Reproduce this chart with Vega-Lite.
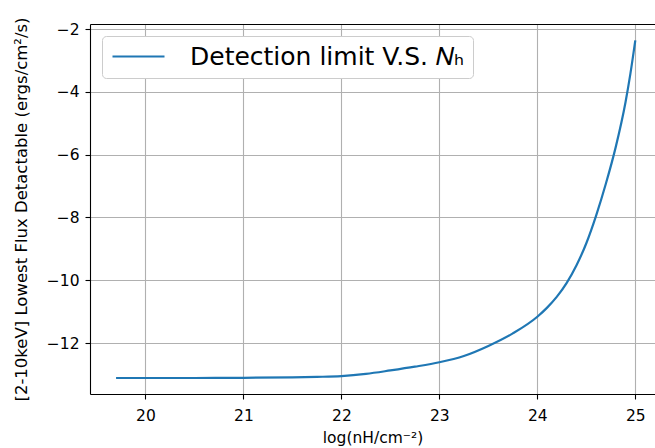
{
  "$schema": "https://vega.github.io/schema/vega-lite/v6.json",
  "width": 565,
  "height": 370,
  "autosize": {"type": "none"},
  "padding": {"left": 90, "top": 24, "right": 0, "bottom": 54},
  "background": "white",
  "config": {
    "view": {"stroke": null},
    "font": "DejaVu Sans",
    "axis": {
      "labelFont": "DejaVu Sans",
      "titleFont": "DejaVu Sans",
      "labelFontSize": 15.5,
      "titleFontSize": 15.5,
      "titleFontWeight": "normal",
      "labelColor": "#000000",
      "titleColor": "#000000",
      "domainColor": "#000000",
      "domainWidth": 1.1,
      "tickColor": "#000000",
      "tickSize": 5,
      "tickWidth": 1.1,
      "gridColor": "#b0b0b0",
      "gridWidth": 1.1,
      "gridOpacity": 1
    }
  },
  "data": {
    "values": [
      {"nh": 19.7, "flux": -13.11, "series": "Detection limit V.S. 𝑁ₕ"},
      {"nh": 20.0, "flux": -13.11, "series": "Detection limit V.S. 𝑁ₕ"},
      {"nh": 20.5, "flux": -13.11, "series": "Detection limit V.S. 𝑁ₕ"},
      {"nh": 21.0, "flux": -13.105, "series": "Detection limit V.S. 𝑁ₕ"},
      {"nh": 21.5, "flux": -13.09, "series": "Detection limit V.S. 𝑁ₕ"},
      {"nh": 21.75, "flux": -13.075, "series": "Detection limit V.S. 𝑁ₕ"},
      {"nh": 22.0, "flux": -13.05, "series": "Detection limit V.S. 𝑁ₕ"},
      {"nh": 22.25, "flux": -12.98, "series": "Detection limit V.S. 𝑁ₕ"},
      {"nh": 22.5, "flux": -12.87, "series": "Detection limit V.S. 𝑁ₕ"},
      {"nh": 22.75, "flux": -12.75, "series": "Detection limit V.S. 𝑁ₕ"},
      {"nh": 23.0, "flux": -12.61, "series": "Detection limit V.S. 𝑁ₕ"},
      {"nh": 23.25, "flux": -12.41, "series": "Detection limit V.S. 𝑁ₕ"},
      {"nh": 23.5, "flux": -12.09, "series": "Detection limit V.S. 𝑁ₕ"},
      {"nh": 23.75, "flux": -11.69, "series": "Detection limit V.S. 𝑁ₕ"},
      {"nh": 24.0, "flux": -11.16, "series": "Detection limit V.S. 𝑁ₕ"},
      {"nh": 24.1, "flux": -10.87, "series": "Detection limit V.S. 𝑁ₕ"},
      {"nh": 24.2, "flux": -10.52, "series": "Detection limit V.S. 𝑁ₕ"},
      {"nh": 24.3, "flux": -10.08, "series": "Detection limit V.S. 𝑁ₕ"},
      {"nh": 24.4, "flux": -9.52, "series": "Detection limit V.S. 𝑁ₕ"},
      {"nh": 24.5, "flux": -8.82, "series": "Detection limit V.S. 𝑁ₕ"},
      {"nh": 24.6, "flux": -7.94, "series": "Detection limit V.S. 𝑁ₕ"},
      {"nh": 24.7, "flux": -6.92, "series": "Detection limit V.S. 𝑁ₕ"},
      {"nh": 24.8, "flux": -5.76, "series": "Detection limit V.S. 𝑁ₕ"},
      {"nh": 24.9, "flux": -4.33, "series": "Detection limit V.S. 𝑁ₕ"},
      {"nh": 24.95, "flux": -3.42, "series": "Detection limit V.S. 𝑁ₕ"},
      {"nh": 25.0, "flux": -2.36, "series": "Detection limit V.S. 𝑁ₕ"}
    ]
  },
  "layer": [
    {
      "mark": {"type": "line", "strokeWidth": 2.2, "interpolate": "monotone"},
      "encoding": {
        "x": {
          "field": "nh", "type": "quantitative",
          "scale": {"domain": [19.434, 25.201], "nice": false, "zero": false},
          "axis": {"values": [20, 21, 22, 23, 24, 25], "title": "log(nH/cm⁻²)", "titlePadding": 7, "labelPadding": 9}
        },
        "y": {
          "field": "flux", "type": "quantitative",
          "scale": {"domain": [-13.62, -1.84], "nice": false, "zero": false},
          "axis": {"values": [-2, -4, -6, -8, -10, -12], "title": "[2-10keV] Lowest Flux Detactable (ergs/cm²/s)", "titleFontSize": 16.5, "titlePadding": 17, "labelPadding": 6}
        },
        "color": {
          "field": "series", "type": "nominal",
          "scale": {"range": ["#1f77b4"]},
          "legend": {
            "title": null,
            "orient": "top-left",
            "offset": 12,
            "symbolType": "M-1,0H4.2",
            "symbolSize": 400,
            "symbolStrokeWidth": 2.2,
            "labelFontSize": 25,
            "labelFont": "DejaVu Sans",
            "labelColor": "#000000",
            "labelOffset": 55,
            "labelLimit": 500,
            "padding": 8,
            "fillColor": "white",
            "strokeColor": "#cccccc",
            "cornerRadius": 4
          }
        }
      }
    },
    {
      "mark": {"type": "line", "opacity": 0},
      "encoding": {
        "x": {
          "field": "nh", "type": "quantitative",
          "axis": {"orient": "top", "labels": false, "ticks": false, "grid": false, "title": null, "domainColor": "#000000"}
        },
        "y": {"field": "flux", "type": "quantitative"}
      }
    }
  ],
  "resolve": {"axis": {"x": "independent"}}
}
